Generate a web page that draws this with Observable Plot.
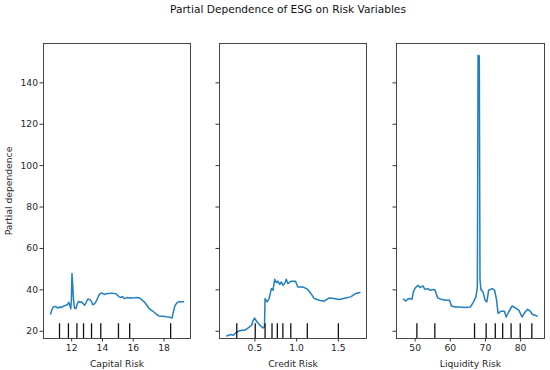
<!DOCTYPE html>
<html>
<head>
<meta charset="utf-8">
<script src="https://cdn.jsdelivr.net/npm/d3@7"></script>
<script src="https://cdn.jsdelivr.net/npm/@observablehq/plot@0.6"></script>
<style>
  html, body { margin: 0; padding: 0; background: #fff; }
  #chart { position: relative; width: 550px; height: 370px; font-family: "DejaVu Sans", sans-serif; overflow: hidden; }
  #title { position: absolute; left: 0; top: 3px; width: 576px; text-align: center; font-size: 10.6px; color: #111; white-space: nowrap; }
  .panel { position: absolute; top: 30px; }
</style>
</head>
<body>
<div id="chart">
  <div id="title">Partial Dependence of ESG on Risk Variables</div>
</div>
<script>
// ---- data ----
const yDomain = [16.5, 159];
const yTicks = [20, 40, 60, 80, 100, 120, 140];

const capitalX = [10.63,10.72,10.80,10.90,11.02,11.12,11.23,11.33,11.44,11.55,11.66,11.74,11.81,11.88,11.94,11.98,12.02,12.07,12.11,12.15,12.19,12.28,12.37,12.45,12.55,12.62,12.72,12.84,12.95,13.05,13.15,13.27,13.37,13.48,13.59,13.70,13.80,13.91,14.02,14.12,14.23,14.35,14.45,14.55,14.70,14.87,14.98,15.09,15.20,15.30,15.41,15.52,15.62,15.75,15.84,16.00,16.20,16.37,16.48,16.59,16.70,16.80,16.92,17.02,17.15,17.34,17.50,17.66,17.82,17.98,18.15,18.30,18.42,18.52,18.60,18.68,18.73,18.85,18.95,19.10,19.27];
const capitalY = [28.3,30.5,31.6,32.0,31.7,31.2,31.8,31.4,32.0,32.4,32.6,33.0,34.0,32.5,30.8,35.0,47.9,42.0,36.0,33.0,31.2,31.0,33.4,34.4,34.0,34.2,33.5,32.6,34.0,35.6,35.4,34.6,32.8,33.2,34.4,36.2,37.8,38.5,38.3,37.8,38.0,38.3,38.2,38.4,38.3,38.1,37.4,36.6,36.4,36.8,35.8,36.0,36.3,36.1,36.2,36.0,36.3,36.2,35.6,35.0,34.3,33.4,32.2,31.0,30.3,29.3,28.3,27.4,27.3,27.2,27.0,26.9,26.6,26.4,29.0,31.6,32.6,33.8,34.2,34.3,34.2];
const capitalDeciles = [11.21,11.79,12.34,12.77,13.29,13.89,15.04,15.77,18.43];
const capitalDomain = [10.17, 19.72];
const capitalTicks = [12, 14, 16, 18];

const creditX = [0.164,0.203,0.243,0.275,0.302,0.342,0.381,0.420,0.461,0.480,0.496,0.520,0.559,0.598,0.615,0.622,0.646,0.670,0.698,0.717,0.737,0.757,0.776,0.797,0.817,0.836,0.856,0.876,0.895,0.935,0.986,1.014,1.073,1.120,1.172,1.212,1.271,1.330,1.390,1.449,1.508,1.588,1.647,1.706,1.757];
const creditY = [17.7,18.4,18.1,19.4,20.0,20.5,20.5,21.6,22.9,25.3,26.4,24.8,22.9,21.6,22.1,35.8,34.2,35.8,40.6,39.8,45.1,43.5,44.2,42.6,43.8,42.2,43.1,45.1,43.1,44.2,44.2,41.4,41.4,40.6,38.2,35.8,35.0,34.5,36.1,35.8,35.3,36.1,36.6,38.2,38.7];
const creditDeciles = [0.283,0.504,0.622,0.705,0.769,0.835,0.930,1.128,1.500];
const creditDomain = [0.076, 1.837];
const creditTicks = [0.5, 1.0, 1.5];

const liquidityX = [46.7,47.4,48.1,49.1,49.5,50.0,50.8,51.4,52.2,52.8,53.6,54.3,55.2,55.7,56.4,57.6,59.0,59.8,60.3,61.4,62.8,64.2,65.7,66.6,67.3,67.7,67.9,68.25,68.45,68.7,69.3,69.9,70.4,70.9,71.9,72.6,73.1,73.6,74.5,75.4,75.9,76.6,77.6,78.5,79.5,80.4,81.3,82.0,82.7,83.4,84.1,84.7];
const liquidityY = [35.5,34.6,35.8,35.5,39.0,40.9,42.2,41.1,41.9,40.2,40.6,39.8,40.2,39.8,36.1,35.3,35.0,35.0,32.2,31.7,31.7,31.5,31.7,34.2,36.6,41.4,153.3,153.0,45.0,40.2,39.0,35.0,34.2,39.8,40.6,39.8,35.8,28.6,29.7,29.7,26.9,29.3,32.2,31.3,30.2,26.9,29.3,30.6,29.7,28.1,27.7,27.3];
const liquidityDeciles = [50.5,55.6,66.9,70.2,72.8,74.9,77.3,79.9,83.2];
const liquidityDomain = [44.7, 86.8];
const liquidityTicks = [50, 60, 70, 80];

// ---- drawing ----
const zip = (xs, ys) => xs.map((x, i) => ({x, y: ys[i]}));
const rugTop = yDomain[0] + 0.05 * (yDomain[1] - yDomain[0]);

function panel({xs, ys, deciles, domain, ticks, tickFormat, label, left, width, ml, mr, showY}) {
  const svg = Plot.plot({
    width, height: 340,
    marginTop: 13, marginBottom: 32, marginLeft: ml, marginRight: mr,
    style: {fontFamily: "DejaVu Sans, sans-serif", fontSize: "9.2px", color: "#262626", background: "transparent", overflow: "visible"},
    x: {domain, ticks},
    y: {domain: yDomain, ticks: yTicks},
    marks: [
      Plot.axisY({ticks: yTicks, tickSize: 3.5, tickPadding: 2,
        tickFormat: showY ? (d => d) : (() => ""),
        label: showY ? "Partial dependence" : null,
        labelAnchor: "center", labelArrow: "none", labelOffset: 38, stroke: "#333"}),
      Plot.axisX({ticks, tickSize: 3.5, tickPadding: 2, tickFormat,
        label, labelAnchor: "center", labelArrow: "none", labelOffset: 28, stroke: "#333"}),
      Plot.line(zip(xs, ys), {x: "x", y: "y", stroke: "#1f7ec4", strokeWidth: 1.5}),
      Plot.ruleX(deciles, {x: d => d, y1: yDomain[0], y2: rugTop, stroke: "#111", strokeWidth: 1.3}),
      Plot.frame({stroke: "#333", strokeWidth: 0.9})
    ]
  });
  svg.classList.add("panel");
  svg.style.left = left + "px";
  document.getElementById("chart").appendChild(svg);
}

panel({xs: capitalX, ys: capitalY, deciles: capitalDeciles, domain: capitalDomain, ticks: capitalTicks,
  tickFormat: d => String(d), label: "Capital Risk", left: 0, width: 200, ml: 43, mr: 10, showY: true});
panel({xs: creditX, ys: creditY, deciles: creditDeciles, domain: creditDomain, ticks: creditTicks,
  tickFormat: d => d.toFixed(1), label: "Credit Risk", left: 200, width: 180, ml: 19, mr: 14, showY: false});
panel({xs: liquidityX, ys: liquidityY, deciles: liquidityDeciles, domain: liquidityDomain, ticks: liquidityTicks,
  tickFormat: d => String(d), label: "Liquidity Risk", left: 380, width: 170, ml: 16, mr: 6, showY: false});
</script>
</body>
</html>
